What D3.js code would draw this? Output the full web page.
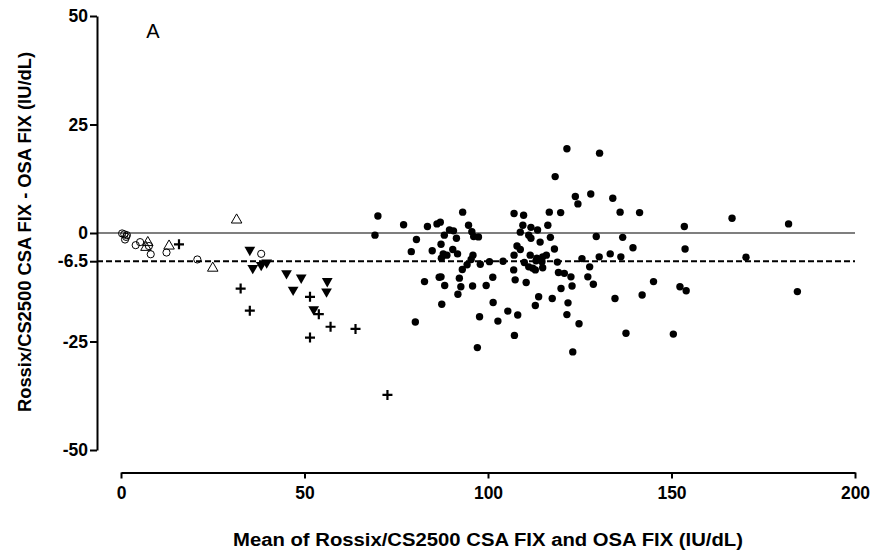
<!DOCTYPE html>
<html>
<head>
<meta charset="utf-8">
<script src="https://cdn.jsdelivr.net/npm/d3@7"></script>
<style>
  html, body { margin: 0; padding: 0; background: #ffffff; }
  svg text { font-family: "Liberation Sans", Arial, sans-serif; }
</style>
</head>
<body>
<svg id="chart" width="873" height="558"></svg>
<script>
// Bland-Altman style difference plot
const x_ticks = [0, 50, 100, 150, 200];
const y_ticks = [-50, -25, -6.5, 0, 25, 50];
const mean_bias = -6.5;

// [mean, difference]
const filled_circles = [
  [70.0, 3.9], [69.2, -0.5], [77.0, 1.9], [80.2, -20.5], [80.5, -1.5], [79.1, -4.3],
  [83.5, 1.5], [82.7, -11.2], [86.1, 2.1], [87.0, 2.5], [84.8, -4.1], [88.1, -0.5],
  [89.5, 0.7], [90.6, 0.5], [91.4, -1.2], [87.2, -2.6], [87.8, -4.8], [88.8, -5.1],
  [87.3, -5.8], [90.4, -3.8], [91.7, -4.8], [93.1, 4.8], [94.7, 1.8], [95.6, 0.3],
  [96.1, -0.8], [97.4, -0.9], [95.9, -5.1], [95.4, -6.1], [94.3, -7.3], [93.0, -8.4],
  [97.9, -7.2], [100.4, -6.6], [86.7, -10.2], [87.2, -10.1], [88.2, -12.1], [92.2, -10.4],
  [92.6, -12.4], [91.8, -14.1], [95.8, -12.2], [99.5, -12.1], [101.3, -10.2], [87.4, -16.4],
  [101.4, -16.0], [97.7, -19.3], [102.7, -20.3], [97.1, -26.4],
  [104.1, -6.5], [105.4, -18.0], [107.0, -8.5], [107.1, -5.1], [107.4, -10.8], [107.2, -23.6],
  [108.1, -18.9], [107.1, 4.5], [109.7, 4.1], [109.5, 1.8], [108.8, 0.2], [107.9, -3.0],
  [108.8, -3.8], [109.9, -6.8], [110.4, -11.4], [111.1, -7.8], [111.7, 1.3], [111.1, -0.5],
  [111.7, -1.2], [111.5, -5.1], [112.2, -8.1], [112.9, -8.5], [113.5, 0.7], [114.2, -2.1],
  [113.3, -5.8], [114.9, -8.0], [114.9, -5.5], [115.9, -5.1], [113.8, -14.7], [112.9, -16.7],
  [113.1, -6.4], [114.7, -6.6],
  [116.3, 1.8], [116.7, 4.8], [117.0, -1.0], [118.1, -3.7], [118.3, 13.0], [118.9, -6.7],
  [119.2, -9.1], [119.8, 4.7], [119.9, -12.8], [117.5, -15.1], [120.8, -9.3], [121.5, 19.4],
  [121.8, -16.1], [121.5, -18.8], [122.6, -10.1], [122.9, -12.2], [123.8, 8.4], [124.5, 6.7],
  [124.8, -20.9], [123.1, -27.4], [125.6, -5.9], [127.7, -7.8], [127.2, -10.1], [128.7, -11.8],
  [128.0, 9.0], [129.5, -0.8], [130.3, -5.5], [130.4, 18.4], [133.3, -4.8], [134.0, 8.0],
  [134.6, -15.1], [136.0, 4.8], [136.7, -1.0], [136.2, -5.5], [137.6, -23.1], [139.5, -3.4],
  [141.3, 4.7], [142.0, -14.3], [145.1, -11.2], [150.5, -23.3], [152.3, -12.4], [154.0, -13.3],
  [153.5, 1.5], [153.7, -3.7], [166.5, 3.4], [170.3, -5.6], [181.9, 2.1], [184.3, -13.5]
];
const open_circles = [
  [0.3, -0.1], [0.9, -0.3], [1.4, -0.9], [1.1, -1.5], [1.6, -0.5],
  [4.0, -2.8], [5.2, -2.1], [7.6, -3.0], [8.1, -4.9], [12.4, -4.5], [20.8, -6.1], [38.2, -4.8]
];
const open_triangles = [
  [7.3, -2.2], [6.8, -3.3], [13.1, -3.0], [25.0, -8.1], [31.5, 3.0]
];
const down_triangles = [
  [35.1, -3.9], [35.9, -8.1], [38.2, -7.4], [39.7, -6.8], [45.1, -9.3],
  [49.1, -10.3], [46.9, -13.1], [56.2, -11.1], [56.0, -13.5], [52.5, -17.6]
];
const plus_points = [
  [15.8, -2.6], [32.6, -12.8], [35.1, -17.9], [51.5, -14.7], [53.9, -18.7],
  [57.1, -21.6], [51.5, -24.1], [63.9, -22.1], [72.6, -37.3]
];

const svg = d3.select('#chart');
const x = d3.scaleLinear().domain([0, 200]).range([121, 855]);
const y = d3.scaleLinear().domain([-50, 50]).range([450, 16]);
const y_axis_x = 97;
const x_axis_y = 472.5;

// reference lines
svg.append('line')
  .attr('x1', y_axis_x).attr('x2', x(200))
  .attr('y1', y(0)).attr('y2', y(0))
  .attr('stroke', '#555').attr('stroke-width', 1.3);
svg.append('line')
  .attr('x1', y_axis_x).attr('x2', x(200))
  .attr('y1', y(mean_bias)).attr('y2', y(mean_bias))
  .attr('stroke', '#000').attr('stroke-width', 2)
  .attr('stroke-dasharray', '6,3');

// axes
const y_axis = svg.append('g')
  .attr('transform', `translate(${y_axis_x},0)`)
  .call(d3.axisLeft(y).tickValues(y_ticks).tickSize(7).tickSizeOuter(0).tickPadding(2)
    .tickFormat(d => String(d)));
const x_axis = svg.append('g')
  .attr('transform', `translate(0,${x_axis_y})`)
  .call(d3.axisBottom(x).tickValues(x_ticks).tickSize(6).tickSizeOuter(0).tickPadding(8));

[y_axis, x_axis].forEach(g => {
  g.selectAll('path, line').attr('stroke', '#000').attr('stroke-width', 2);
  g.selectAll('text')
    .attr('fill', '#000')
    .attr('font-size', 17.5)
    .attr('font-weight', 'bold')
    .attr('font-family', '"Liberation Sans", Arial, sans-serif');
});

// points
const sym = (type, size) => d3.symbol().type(type).size(size)();

svg.append('g').selectAll('circle')
  .data(filled_circles).enter().append('circle')
  .attr('cx', d => x(d[0])).attr('cy', d => y(d[1]))
  .attr('r', 3.7).attr('fill', '#000');

svg.append('g').selectAll('circle')
  .data(open_circles).enter().append('circle')
  .attr('cx', d => x(d[0])).attr('cy', d => y(d[1]))
  .attr('r', 3.6).attr('fill', 'none').attr('stroke', '#000').attr('stroke-width', 1);

svg.append('g').selectAll('path')
  .data(open_triangles).enter().append('path')
  .attr('d', sym(d3.symbolTriangle, 48))
  .attr('transform', d => `translate(${x(d[0])},${y(d[1])})`)
  .attr('fill', 'none').attr('stroke', '#000').attr('stroke-width', 1);

svg.append('g').selectAll('path')
  .data(down_triangles).enter().append('path')
  .attr('d', sym(d3.symbolTriangle, 50))
  .attr('transform', d => `translate(${x(d[0])},${y(d[1])}) rotate(180)`)
  .attr('fill', '#000');

svg.append('g').selectAll('path')
  .data(plus_points).enter().append('path')
  .attr('d', 'M-5,0H5M0,-5V5')
  .attr('transform', d => `translate(${x(d[0])},${y(d[1])})`)
  .attr('fill', 'none').attr('stroke', '#000').attr('stroke-width', 2.2);

// panel letter
svg.append('text')
  .attr('x', 153).attr('y', 38)
  .attr('text-anchor', 'middle')
  .attr('font-size', 20)
  .text('A');

// axis titles
svg.append('text')
  .attr('transform', `translate(31,232) rotate(-90)`)
  .attr('text-anchor', 'middle')
  .attr('font-size', 18).attr('font-weight', 'bold')
  .attr('textLength', 360).attr('lengthAdjust', 'spacingAndGlyphs')
  .text('Rossix/CS2500 CSA FIX - OSA FIX (IU/dL)');

svg.append('text')
  .attr('x', 488).attr('y', 546)
  .attr('text-anchor', 'middle')
  .attr('font-size', 18).attr('font-weight', 'bold')
  .attr('textLength', 510).attr('lengthAdjust', 'spacingAndGlyphs')
  .text('Mean of Rossix/CS2500 CSA FIX and OSA FIX (IU/dL)');
</script>
</body>
</html>
